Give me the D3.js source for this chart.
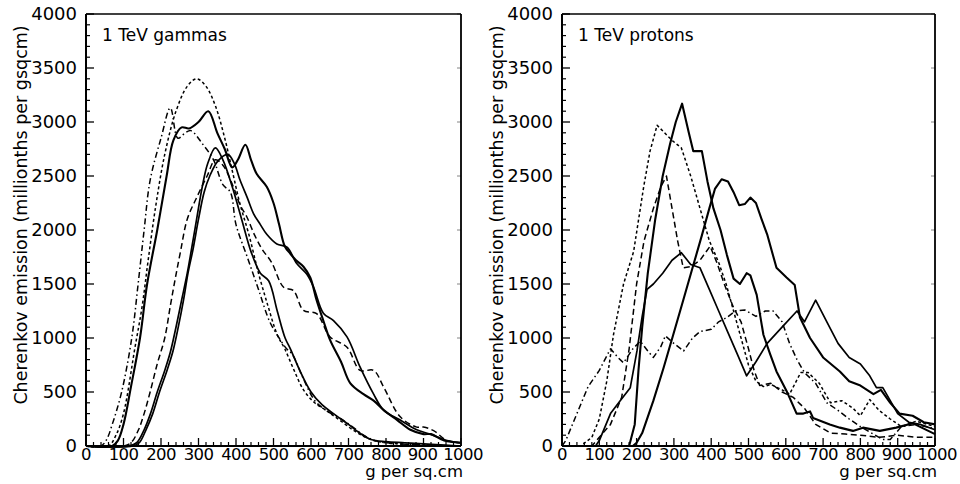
<!DOCTYPE html>
<html>
<head>
<meta charset="utf-8">
<script src="https://cdn.jsdelivr.net/npm/d3@7"></script>
<style>
  html, body { margin: 0; padding: 0; background: #fff; }
  svg { display: block; }
  text { font-family: "DejaVu Sans", sans-serif; fill: #000; }
</style>
</head>
<body>
<svg id="chart" width="960" height="484"></svg>
<script>
// Longitudinal Cherenkov emission profiles, depth in g/cm^2 vs emission.
const xTicks = [0, 100, 200, 300, 400, 500, 600, 700, 800, 900, 1000];
const yTicks = [0, 500, 1000, 1500, 2000, 2500, 3000, 3500, 4000];
const panelTitles = ["1 TeV gammas", "1 TeV protons"];
const xLabel = "g per sq.cm";
const yLabel = "Cherenkov emission (millionths per gsqcm)";

// 1 TeV gamma showers: [depth, emission]
const gammaDashDot = [[0,0],[40,0],[55,60],[70,200],[95,500],[122,1000],[139,1500],[155,2000],[171,2460],[200,2850],[225,3130],[245,2850],[265,2900],[280,2920],[310,2800],[340,2650],[365,2420],[385,2350],[400,2050],[430,1750],[460,1450],[490,1150],[515,1000],[535,900],[550,850],[580,620],[610,420],[640,330],[680,250],[710,180],[740,100],[770,50],[800,30],[900,10],[1000,0]];
const gammaDashedA = [[0,0],[60,0],[80,100],[100,300],[130,900],[150,1300],[165,1700],[185,2200],[210,2700],[240,3100],[270,3330],[295,3400],[320,3330],[345,3150],[370,2850],[390,2550],[410,2250],[435,1950],[460,1600],[485,1300],[510,1030],[530,900],[555,700],[580,520],[610,400],[640,330],[680,230],[720,130],[760,60],[800,30],[900,10],[1000,0]];
const gammaSolidA = [[0,0],[70,0],[85,50],[100,200],[120,550],[144,1000],[163,1500],[190,2000],[215,2500],[233,2830],[255,2950],[275,2940],[300,3000],[326,3100],[350,2900],[370,2750],[390,2580],[405,2650],[425,2790],[440,2650],[455,2520],[482,2400],[500,2250],[515,2050],[530,1850],[545,1780],[560,1720],[580,1660],[598,1560],[615,1350],[633,1160],[651,980],[680,780],[705,580],[740,480],[767,420],[795,330],[830,240],[865,150],[900,110],[920,110],[955,50],[1000,30]];
const gammaSolidB = [[0,0],[115,0],[135,30],[155,150],[172,300],[190,500],[210,700],[225,870],[240,1100],[255,1350],[270,1600],[281,1815],[295,2100],[310,2400],[325,2620],[345,2760],[365,2650],[390,2400],[415,2100],[440,1800],[465,1600],[487,1530],[510,1250],[531,1000],[545,900],[570,700],[600,500],[630,380],[660,300],[700,200],[730,120],[760,60],[800,40],[850,30],[900,20],[1000,0]];
const gammaSolidC = [[0,0],[125,0],[142,30],[160,150],[178,300],[196,500],[216,700],[232,880],[246,1100],[260,1350],[272,1600],[285,1815],[300,2100],[315,2350],[330,2500],[352,2640],[378,2700],[395,2620],[411,2460],[430,2300],[447,2150],[465,2050],[482,1960],[509,1870],[536,1840],[562,1690],[589,1590],[607,1470],[633,1230],[660,1160],[696,1010],[731,730],[767,480],[794,330],[838,240],[882,150],[918,110],[963,50],[1000,30]];
const gammaDashedB = [[0,0],[100,0],[120,30],[140,150],[155,300],[171,500],[190,760],[210,1000],[225,1300],[238,1550],[252,1800],[270,2100],[295,2300],[323,2500],[345,2650],[365,2600],[393,2400],[411,2230],[429,2120],[450,1950],[470,1820],[495,1700],[527,1470],[553,1440],[580,1255],[615,1225],[651,1010],[696,915],[731,700],[767,700],[794,544],[838,270],[882,175],[900,175],[927,142],[963,50],[1000,30]];

// 1 TeV proton showers: [depth, emission]
const protonSolidA = [[0,0],[180,0],[195,200],[205,700],[215,1100],[230,1600],[250,2100],[270,2500],[290,2800],[305,3000],[322,3170],[340,2900],[352,2730],[375,2730],[390,2450],[406,2200],[425,2000],[442,1770],[460,1550],[477,1500],[495,1600],[505,1580],[522,1400],[540,1030],[558,850],[575,690],[602,510],[629,300],[647,300],[665,320],[673,260],[718,200],[745,170],[780,140],[807,170],[852,140],[896,170],[941,210],[1000,110]];
const protonSolidB = [[0,0],[90,0],[100,50],[130,300],[156,420],[183,540],[201,880],[215,1200],[228,1450],[245,1500],[270,1600],[295,1720],[320,1790],[345,1680],[370,1650],[395,1450],[420,1250],[445,1050],[470,850],[495,650],[520,780],[550,950],[590,1100],[630,1250],[650,1150],[680,1350],[710,1150],[740,950],[770,820],[800,760],[825,650],[843,540],[860,540],[880,420],[900,300],[930,220],[960,200],[1000,150]];
const protonSolidC = [[0,0],[190,0],[200,30],[215,120],[245,420],[272,720],[299,1040],[325,1350],[350,1650],[375,1950],[395,2200],[410,2380],[428,2470],[445,2450],[460,2350],[475,2230],[490,2240],[505,2300],[520,2250],[535,2100],[550,1960],[575,1650],[602,1560],[624,1490],[638,1190],[665,1000],[700,820],[745,690],[770,600],[800,560],[835,480],[855,520],[880,400],[905,300],[940,280],[970,220],[1000,200]];
const protonDotted = [[0,0],[50,0],[80,80],[100,250],[120,600],[138,1030],[165,1500],[192,1800],[219,2400],[236,2730],[255,2970],[275,2900],[295,2830],[320,2760],[345,2500],[370,2200],[395,1900],[420,1700],[440,1500],[460,1250],[480,1000],[500,750],[520,600],[540,550],[560,570],[590,520],[610,480],[640,680],[660,680],[690,580],[720,400],[750,420],[780,350],[800,280],[825,430],[850,330],[880,250],[910,180],[950,230],[1000,180]];
const protonDashed = [[0,0],[80,0],[100,80],[130,200],[160,450],[180,900],[200,1500],[220,1900],[245,2200],[265,2400],[280,2500],[295,2200],[310,1900],[325,1650],[345,1660],[370,1720],[397,1850],[415,1700],[435,1500],[460,1280],[480,1150],[500,900],[515,700],[530,560],[560,580],[590,500],[620,450],[650,350],[680,200],[720,120],[760,110],[800,100],[850,80],[900,100],[950,80],[1000,80]];
const protonDashDot = [[0,0],[10,50],[40,300],[70,550],[100,700],[130,900],[150,820],[165,770],[190,900],[210,970],[230,880],[245,820],[265,920],[277,1020],[300,950],[326,880],[350,1000],[370,1060],[400,1080],[420,1150],[442,1190],[465,1250],[490,1260],[520,1200],[545,1250],[566,1250],[590,1150],[610,950],[630,800],[650,680],[680,580],[710,400],[740,330],[770,250],[800,180],[830,120],[860,60],[880,60],[910,180],[950,200],[1000,160]];

const styles = {
  solid:   { dash: null,          width: 1.7 },
  thick:   { dash: null,          width: 2.1 },
  dashed:  { dash: "6,3.5",       width: 1.5 },
  dotted:  { dash: "3,2.5",       width: 1.5 },
  dashdot: { dash: "6,3,1.5,3",   width: 1.5 }
};

const panels = [
  {
    left: 86, right: 461, top: 14, bottom: 446,
    title: panelTitles[0], curve: d3.curveCatmullRom.alpha(0.5),
    series: [
      { data: gammaDashDot, style: "dashdot" },
      { data: gammaDashedA, style: "dotted" },
      { data: gammaSolidA,  style: "thick" },
      { data: gammaSolidB,  style: "solid" },
      { data: gammaSolidC,  style: "solid" },
      { data: gammaDashedB, style: "dashed" }
    ]
  },
  {
    left: 562, right: 935, top: 14, bottom: 446,
    title: panelTitles[1], curve: d3.curveLinear,
    series: [
      { data: protonSolidA,  style: "thick" },
      { data: protonSolidB,  style: "solid" },
      { data: protonSolidC,  style: "thick" },
      { data: protonDotted,  style: "dotted" },
      { data: protonDashed,  style: "dashed" },
      { data: protonDashDot, style: "dashdot" }
    ]
  }
];

const svg = d3.select("#chart");

panels.forEach(p => {
  const x = d3.scaleLinear().domain([0, 1000]).range([p.left, p.right]);
  const y = d3.scaleLinear().domain([0, 4000]).range([p.bottom, p.top]);
  const g = svg.append("g");

  // minor ticks: x every 20, y every 100
  const xMinor = d3.range(0, 1001, 20).filter(v => v % 100 !== 0);
  const yMinor = d3.range(0, 4001, 100).filter(v => v % 500 !== 0);

  g.selectAll(".xmaj").data(xTicks).join("line")
    .attr("x1", d => x(d)).attr("x2", d => x(d))
    .attr("y1", p.bottom).attr("y2", p.bottom - 8)
    .attr("stroke", "#000").attr("stroke-width", 1.3);
  g.selectAll(".xmin").data(xMinor).join("line")
    .attr("x1", d => x(d)).attr("x2", d => x(d))
    .attr("y1", p.bottom).attr("y2", p.bottom - 4)
    .attr("stroke", "#000").attr("stroke-width", 1.2);
  g.selectAll(".ymaj").data(yTicks).join("line")
    .attr("x1", p.left).attr("x2", p.left + 8)
    .attr("y1", d => y(d)).attr("y2", d => y(d))
    .attr("stroke", "#000").attr("stroke-width", 1.3);
  g.selectAll(".ymin").data(yMinor).join("line")
    .attr("x1", p.left).attr("x2", p.left + 4)
    .attr("y1", d => y(d)).attr("y2", d => y(d))
    .attr("stroke", "#000").attr("stroke-width", 1.2);
  // mirrored ticks on the right edge
  g.selectAll(".yr").data(yTicks).join("line")
    .attr("x1", p.right).attr("x2", p.right - 4)
    .attr("y1", d => y(d)).attr("y2", d => y(d))
    .attr("stroke", "#000").attr("stroke-width", 0.8).attr("opacity", 0.6);

  // frame
  g.append("line").attr("x1", p.left).attr("x2", p.right)
    .attr("y1", p.top).attr("y2", p.top).attr("stroke", "#000").attr("stroke-width", 1.5);
  g.append("line").attr("x1", p.right).attr("x2", p.right)
    .attr("y1", p.top).attr("y2", p.bottom).attr("stroke", "#000").attr("stroke-width", 1.8);
  g.append("line").attr("x1", p.left).attr("x2", p.left)
    .attr("y1", p.top).attr("y2", p.bottom).attr("stroke", "#000").attr("stroke-width", 2);
  g.append("line").attr("x1", p.left).attr("x2", p.right)
    .attr("y1", p.bottom).attr("y2", p.bottom).attr("stroke", "#000").attr("stroke-width", 2);

  // tick labels (the last two sit tight together, as in the printed figure)
  g.selectAll(".xl").data(xTicks).join("text")
    .attr("x", d => x(d) + (d === 1000 ? 2 : d === 900 ? -1 : 0)).attr("y", p.bottom + 14)
    .attr("text-anchor", "middle").attr("font-size", 16.5)
    .attr("letter-spacing", -0.6)
    .text(d => d);
  g.selectAll(".yl").data(yTicks).join("text")
    .attr("x", p.left - 9).attr("y", d => y(d) + 6)
    .attr("text-anchor", "end").attr("font-size", 18)
    .text(d => d);

  // axis titles
  g.append("text").attr("x", p.right + 2).attr("y", p.bottom + 31)
    .attr("text-anchor", "end").attr("font-size", 16.5).text(xLabel);
  g.append("text")
    .attr("transform", `translate(${p.left - 59},215) rotate(-90)`)
    .attr("text-anchor", "middle").attr("font-size", 17.5).text(yLabel);

  // panel title
  g.append("text").attr("x", p.left + 16).attr("y", p.top + 27)
    .attr("font-size", 17).text(p.title);

  // curves
  const line = d3.line().x(d => x(d[0])).y(d => y(d[1])).curve(p.curve);
  p.series.forEach(s => {
    const st = styles[s.style];
    g.append("path").datum(s.data)
      .attr("d", line)
      .attr("fill", "none")
      .attr("stroke", "#000")
      .attr("stroke-width", st.width)
      .attr("stroke-linejoin", "round")
      .attr("stroke-dasharray", st.dash);
  });
});
</script>
</body>
</html>
